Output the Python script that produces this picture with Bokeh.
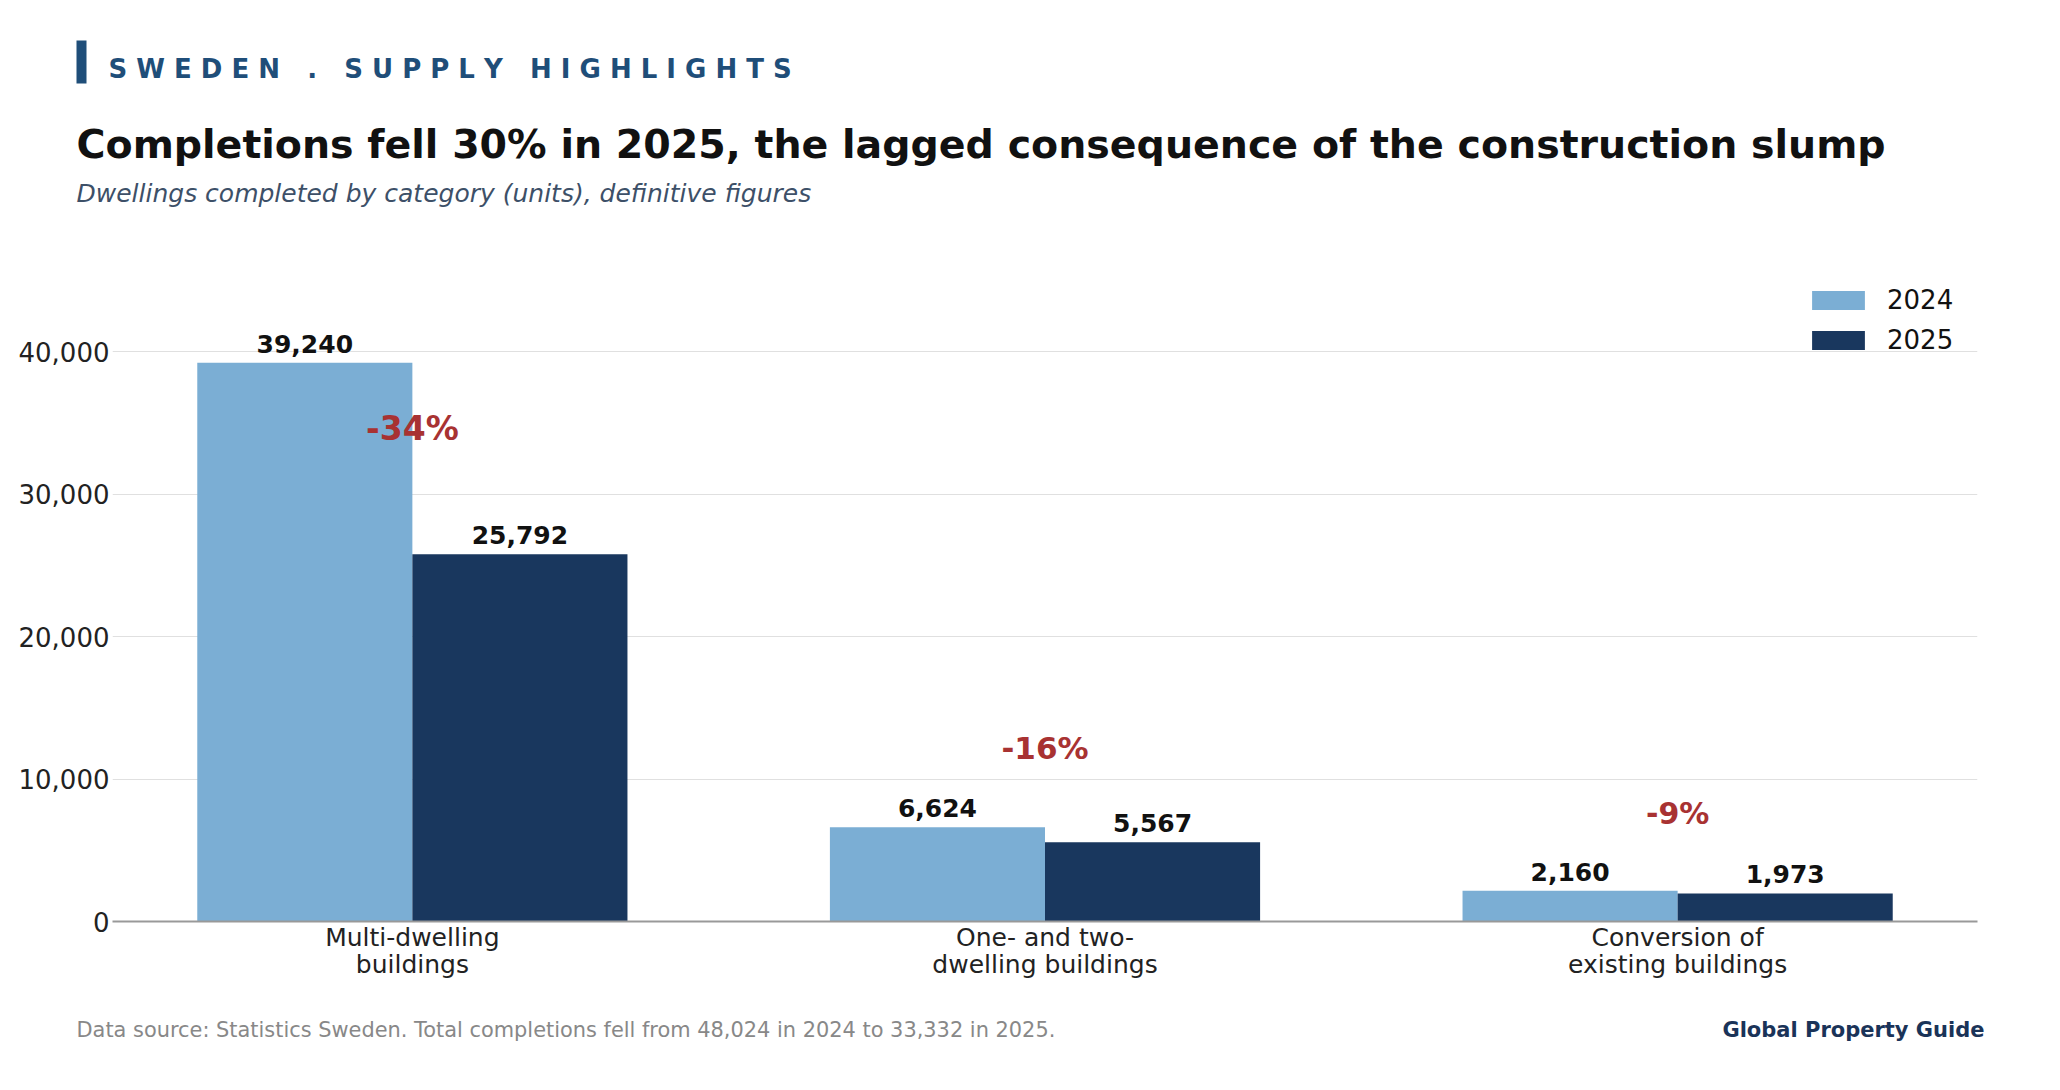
from bokeh.plotting import figure
from bokeh.layouts import column
from bokeh.models import (ColumnDataSource, Range1d, Legend, LegendItem,
                          FixedTicker, NumeralTickFormatter)
from bokeh.core.properties import value
from bokeh.embed import file_html
from bokeh.resources import INLINE

# ---- data ----
categories = ["Multi-dwelling\nbuildings", "One- and two-\ndwelling buildings",
              "Conversion of\nexisting buildings"]
values_2024 = [39240, 6624, 2160]
values_2025 = [25792, 5567, 1973]
series_names = ["2024", "2025"]
pct_label_y = [34600, 12150, 7550]
y_ticks = [0, 10000, 20000, 30000, 40000]

header_text = "SWEDEN . SUPPLY HIGHLIGHTS"
title_text = "Completions fell 30% in 2025, the lagged consequence of the construction slump"
subtitle_text = "Dwellings completed by category (units), definitive figures"
source_text = ("Data source: Statistics Sweden. Total completions fell from "
               "48,024 in 2024 to 33,332 in 2025.")
brand_text = "Global Property Guide"

FONT = "DejaVu Sans"
C24 = "#7BAED4"
C25 = "#19375E"
RED = "#A83232"
NAVY = "#1F4E79"

W = 2060
HEAD_H, MAIN_H, FOOT_H = 240, 760, 90
FL, FR = 112, 1977


def no_align(f):
    try:
        f.frame_align = False
    except Exception:
        pass


def blank(height, y0):
    """A figure whose frame is the whole canvas, in page pixel units."""
    f = figure(width=W, height=height, output_backend="svg", toolbar_location=None,
               x_range=Range1d(0, W), y_range=Range1d(y0 + height, y0),
               x_axis_location=None, y_axis_location=None,
               min_border=0, min_border_left=0, min_border_right=0,
               min_border_top=0, min_border_bottom=0)
    f.title.visible = False
    f.outline_line_color = None
    f.grid.visible = False
    f.background_fill_color = "white"
    f.border_fill_color = "white"
    no_align(f)
    return f


def txt(f, x, y, text, size, color, style="normal", align="left"):
    f.text(x=[x], y=[y], text=[text], text_font=value(FONT), text_font_size=size,
           text_color=color, text_font_style=style, text_align=align,
           text_baseline="alphabetic")


# ---- header ----
head = blank(HEAD_H, 0)
head.quad(left=[76], right=[86], top=[40], bottom=[83], fill_color=NAVY, line_color=None)
header_str = " \u00a0 ".join(" ".join(w) for w in header_text.split(" "))
txt(head, 108, 68, header_str, "26px", NAVY, "bold")
txt(head, 76, 143, title_text, "39.5px", "#111111", "bold")
txt(head, 76, 193, subtitle_text, "25px", "#3D5068", "italic")

# ---- main chart ----
p = figure(width=W, height=MAIN_H, output_backend="svg", toolbar_location=None,
           x_range=Range1d(-0.474, 2.474), y_range=Range1d(0, 46000),
           min_border_left=FL, min_border_right=W - FR, min_border_top=26,
           min_border_bottom=79)
p.title.visible = False
p.outline_line_color = None
p.background_fill_color = "white"
p.border_fill_color = "white"
no_align(p)

xs = list(range(len(categories)))
bw = 0.34
src = ColumnDataSource(dict(
    x24=[x - bw / 2 for x in xs], x25=[x + bw / 2 for x in xs],
    v24=values_2024, v25=values_2025,
    l24=[f"{v:,}" for v in values_2024], l25=[f"{v:,}" for v in values_2025],
))
r24 = p.vbar(x="x24", top="v24", width=bw, source=src, fill_color=C24, line_color=None)
r25 = p.vbar(x="x25", top="v25", width=bw, source=src, fill_color=C25, line_color=None)

for xcol, lcol, vcol in [("x24", "l24", "v24"), ("x25", "l25", "v25")]:
    p.text(x=xcol, y=vcol, text=lcol, source=src, text_align="center",
           text_baseline="bottom", y_offset=-10, text_font=value(FONT),
           text_font_style="bold", text_font_size="25px", text_color="#111111")

pcts = [round((b - a) / a * 100) for a, b in zip(values_2024, values_2025)]
psrc = ColumnDataSource(dict(x=xs, y=pct_label_y, t=[f"{v:d}%" for v in pcts],
                             s=["33px", "31px", "30px"]))
p.text(x="x", y="y", text="t", source=psrc, text_align="center",
       text_baseline="middle", text_font=value(FONT), text_font_style="bold",
       text_font_size="s", text_color=RED)

p.xaxis.ticker = FixedTicker(ticks=xs)
p.xaxis.major_label_overrides = {i: c for i, c in enumerate(categories)}
p.xaxis.major_label_text_font = FONT
p.xaxis.major_label_text_font_size = "25px"
p.xaxis.major_label_text_color = "#222222"
p.xaxis.major_label_text_line_height = 0.95
p.xaxis.major_label_standoff = 1
p.xaxis.major_tick_out = 0
p.xaxis.major_tick_line_color = None
p.xaxis.minor_tick_line_color = None
p.xaxis.axis_line_color = "#999999"
p.xaxis.axis_line_width = 2

p.yaxis.ticker = FixedTicker(ticks=y_ticks)
p.yaxis.formatter = NumeralTickFormatter(format="0,0")
p.yaxis.major_label_text_font = FONT
p.yaxis.major_label_text_font_size = "26px"
p.yaxis.major_label_text_color = "#222222"
p.yaxis.major_label_standoff = 3
p.yaxis.major_tick_out = 0
p.yaxis.major_tick_line_color = None
p.yaxis.minor_tick_line_color = None
p.yaxis.axis_line_color = None

p.xgrid.grid_line_color = None
p.ygrid.grid_line_color = "#E0E0E0"
p.ygrid.grid_line_width = 1

legend = Legend(items=[LegendItem(label=series_names[0], renderers=[r24]),
                       LegendItem(label=series_names[1], renderers=[r25])],
                location="top_right", border_line_color=None,
                background_fill_alpha=0, label_text_font=FONT,
                label_text_font_size="26px", label_text_color="#111111",
                glyph_width=66, glyph_height=24, spacing=10, padding=0,
                margin=19, label_standoff=16, label_width=71)
p.add_layout(legend)

# ---- footer ----
foot = blank(FOOT_H, HEAD_H + MAIN_H)
txt(foot, 76, 1029, source_text, "20.9px", "#888888")
txt(foot, 1984, 1029, brand_text, "21px", "#1A3358", "bold", "right")

page = column(head, p, foot, spacing=0)
open("out.html", "w").write(file_html(page, INLINE))
